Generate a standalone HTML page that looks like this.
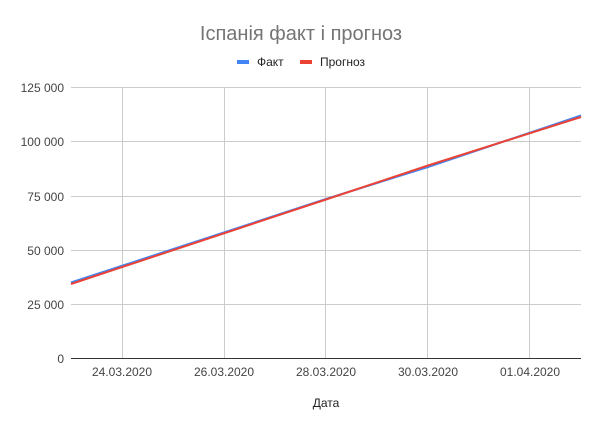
<!DOCTYPE html>
<html><head><meta charset="utf-8"><style>
html,body{margin:0;padding:0;background:#fff;}
svg{display:block;font-family:"Liberation Sans",Arial,sans-serif;}
</style></head><body>
<svg width="602" height="429" viewBox="0 0 602 429" xmlns="http://www.w3.org/2000/svg">
<rect width="602" height="429" fill="#fff"/>
<text x="301" y="40" text-anchor="middle" font-size="20" fill="#757575">Іспанія факт і прогноз</text>
<rect x="237" y="60" width="12" height="4" fill="#4285f4"/>
<text x="257" y="66" font-size="12" fill="#222">Факт</text>
<rect x="300" y="60" width="12" height="4" fill="#ea4335"/>
<text x="320" y="66" font-size="12" fill="#222">Прогноз</text>
<g stroke="#cccccc" stroke-width="1">
<line x1="71" y1="87.5" x2="581" y2="87.5"/>
<line x1="71" y1="141.5" x2="581" y2="141.5"/>
<line x1="71" y1="196.5" x2="581" y2="196.5"/>
<line x1="71" y1="250.5" x2="581" y2="250.5"/>
<line x1="71" y1="304.5" x2="581" y2="304.5"/>
<line x1="122.5" y1="87" x2="122.5" y2="359"/>
<line x1="224.5" y1="87" x2="224.5" y2="359"/>
<line x1="325.5" y1="87" x2="325.5" y2="359"/>
<line x1="427.5" y1="87" x2="427.5" y2="359"/>
<line x1="529.5" y1="87" x2="529.5" y2="359"/>
</g>
<line x1="71" y1="358.5" x2="581" y2="358.5" stroke="#333" stroke-width="1"/>
<g font-size="12" fill="#444" text-anchor="end">
<text x="64" y="92">125 000</text>
<text x="64" y="146">100 000</text>
<text x="64" y="201">75 000</text>
<text x="64" y="255">50 000</text>
<text x="64" y="309">25 000</text>
<text x="64" y="363">0</text>
</g>
<g font-size="12" fill="#444" text-anchor="middle">
<text x="122" y="376">24.03.2020</text>
<text x="224" y="376">26.03.2020</text>
<text x="326" y="376">28.03.2020</text>
<text x="428" y="376">30.03.2020</text>
<text x="530" y="376">01.04.2020</text>
</g>
<text x="326" y="407" text-anchor="middle" font-size="12" fill="#222">Дата</text>
<polyline points="71,282.5 326,199 428,167 581,115.5" fill="none" stroke="#4285f4" stroke-width="2"/>
<polyline points="71,284 326,199.5 428,165.5 581,117" fill="none" stroke="#ea4335" stroke-width="2"/>
</svg>
</body></html>
